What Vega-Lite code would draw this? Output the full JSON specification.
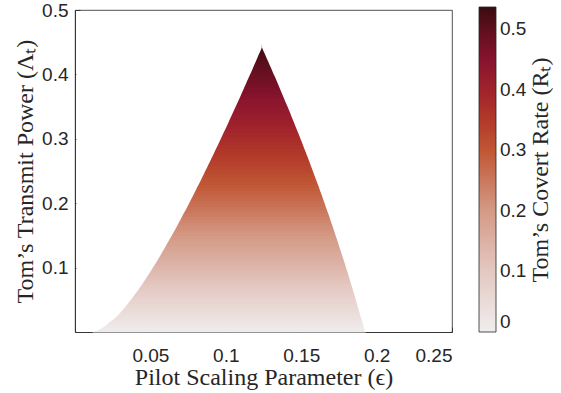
{
  "$schema": "https://vega.github.io/schema/vega-lite/v6.json",
  "width": 377,
  "height": 322,
  "autosize": {"type": "none"},
  "padding": {"left": 75, "top": 10, "right": 109, "bottom": 61},
  "background": "white",
  "config": {
    "view": {"stroke": "#262626", "strokeWidth": 0.8},
    "axis": {
      "grid": false,
      "zindex": 1,
      "domainColor": "#262626",
      "tickColor": "#262626",
      "labelColor": "#262626",
      "titleColor": "#262626",
      "labelFont": "Liberation Sans",
      "labelFontSize": 19,
      "titleFont": "Liberation Serif",
      "titleFontSize": 24,
      "titleFontWeight": "normal",
      "tickSize": -5,
      "domainWidth": 0.8,
      "tickWidth": 0.8
    }
  },
  "data": {
    "values": [
      {"lo": 0, "hi": 0.0025, "eL": 0.0121, "eR": 0.1924, "r": 0.0018},
      {"lo": 0.0025, "hi": 0.005, "eL": 0.0149, "eR": 0.1921, "r": 0.0054},
      {"lo": 0.005, "hi": 0.0075, "eL": 0.0170, "eR": 0.1918, "r": 0.0090},
      {"lo": 0.0075, "hi": 0.01, "eL": 0.0187, "eR": 0.1915, "r": 0.0126},
      {"lo": 0.01, "hi": 0.0125, "eL": 0.0203, "eR": 0.1912, "r": 0.0161},
      {"lo": 0.0125, "hi": 0.015, "eL": 0.0216, "eR": 0.1909, "r": 0.0197},
      {"lo": 0.015, "hi": 0.0175, "eL": 0.0229, "eR": 0.1906, "r": 0.0233},
      {"lo": 0.0175, "hi": 0.02, "eL": 0.0242, "eR": 0.1903, "r": 0.0268},
      {"lo": 0.02, "hi": 0.025, "eL": 0.0259, "eR": 0.1899, "r": 0.0321},
      {"lo": 0.025, "hi": 0.03, "eL": 0.0280, "eR": 0.1893, "r": 0.0391},
      {"lo": 0.03, "hi": 0.035, "eL": 0.0300, "eR": 0.1886, "r": 0.0461},
      {"lo": 0.035, "hi": 0.04, "eL": 0.0319, "eR": 0.1880, "r": 0.0531},
      {"lo": 0.04, "hi": 0.045, "eL": 0.0337, "eR": 0.1874, "r": 0.0601},
      {"lo": 0.045, "hi": 0.05, "eL": 0.0354, "eR": 0.1868, "r": 0.0670},
      {"lo": 0.05, "hi": 0.055, "eL": 0.0371, "eR": 0.1862, "r": 0.0738},
      {"lo": 0.055, "hi": 0.06, "eL": 0.0387, "eR": 0.1856, "r": 0.0807},
      {"lo": 0.06, "hi": 0.065, "eL": 0.0403, "eR": 0.1849, "r": 0.0875},
      {"lo": 0.065, "hi": 0.07, "eL": 0.0418, "eR": 0.1843, "r": 0.0942},
      {"lo": 0.07, "hi": 0.075, "eL": 0.0433, "eR": 0.1837, "r": 0.1010},
      {"lo": 0.075, "hi": 0.08, "eL": 0.0448, "eR": 0.1830, "r": 0.1077},
      {"lo": 0.08, "hi": 0.085, "eL": 0.0462, "eR": 0.1824, "r": 0.1144},
      {"lo": 0.085, "hi": 0.09, "eL": 0.0476, "eR": 0.1817, "r": 0.1210},
      {"lo": 0.09, "hi": 0.095, "eL": 0.0490, "eR": 0.1811, "r": 0.1276},
      {"lo": 0.095, "hi": 0.1, "eL": 0.0504, "eR": 0.1804, "r": 0.1342},
      {"lo": 0.1, "hi": 0.105, "eL": 0.0517, "eR": 0.1797, "r": 0.1408},
      {"lo": 0.105, "hi": 0.11, "eL": 0.0530, "eR": 0.1791, "r": 0.1473},
      {"lo": 0.11, "hi": 0.115, "eL": 0.0543, "eR": 0.1784, "r": 0.1538},
      {"lo": 0.115, "hi": 0.12, "eL": 0.0556, "eR": 0.1777, "r": 0.1603},
      {"lo": 0.12, "hi": 0.125, "eL": 0.0569, "eR": 0.1770, "r": 0.1667},
      {"lo": 0.125, "hi": 0.13, "eL": 0.0581, "eR": 0.1763, "r": 0.1731},
      {"lo": 0.13, "hi": 0.135, "eL": 0.0594, "eR": 0.1756, "r": 0.1795},
      {"lo": 0.135, "hi": 0.14, "eL": 0.0606, "eR": 0.1749, "r": 0.1859},
      {"lo": 0.14, "hi": 0.145, "eL": 0.0618, "eR": 0.1742, "r": 0.1922},
      {"lo": 0.145, "hi": 0.15, "eL": 0.0630, "eR": 0.1735, "r": 0.1985},
      {"lo": 0.15, "hi": 0.155, "eL": 0.0642, "eR": 0.1728, "r": 0.2048},
      {"lo": 0.155, "hi": 0.16, "eL": 0.0654, "eR": 0.1721, "r": 0.2110},
      {"lo": 0.16, "hi": 0.165, "eL": 0.0666, "eR": 0.1714, "r": 0.2172},
      {"lo": 0.165, "hi": 0.17, "eL": 0.0678, "eR": 0.1707, "r": 0.2234},
      {"lo": 0.17, "hi": 0.175, "eL": 0.0689, "eR": 0.1699, "r": 0.2296},
      {"lo": 0.175, "hi": 0.18, "eL": 0.0701, "eR": 0.1692, "r": 0.2357},
      {"lo": 0.18, "hi": 0.185, "eL": 0.0712, "eR": 0.1685, "r": 0.2418},
      {"lo": 0.185, "hi": 0.19, "eL": 0.0723, "eR": 0.1677, "r": 0.2479},
      {"lo": 0.19, "hi": 0.195, "eL": 0.0735, "eR": 0.1670, "r": 0.2540},
      {"lo": 0.195, "hi": 0.2, "eL": 0.0746, "eR": 0.1662, "r": 0.2600},
      {"lo": 0.2, "hi": 0.205, "eL": 0.0757, "eR": 0.1655, "r": 0.2660},
      {"lo": 0.205, "hi": 0.21, "eL": 0.0768, "eR": 0.1647, "r": 0.2720},
      {"lo": 0.21, "hi": 0.215, "eL": 0.0779, "eR": 0.1640, "r": 0.2780},
      {"lo": 0.215, "hi": 0.22, "eL": 0.0790, "eR": 0.1632, "r": 0.2839},
      {"lo": 0.22, "hi": 0.225, "eL": 0.0801, "eR": 0.1624, "r": 0.2898},
      {"lo": 0.225, "hi": 0.23, "eL": 0.0811, "eR": 0.1617, "r": 0.2957},
      {"lo": 0.23, "hi": 0.235, "eL": 0.0822, "eR": 0.1609, "r": 0.3016},
      {"lo": 0.235, "hi": 0.24, "eL": 0.0833, "eR": 0.1601, "r": 0.3074},
      {"lo": 0.24, "hi": 0.245, "eL": 0.0843, "eR": 0.1593, "r": 0.3133},
      {"lo": 0.245, "hi": 0.25, "eL": 0.0854, "eR": 0.1585, "r": 0.3190},
      {"lo": 0.25, "hi": 0.255, "eL": 0.0864, "eR": 0.1577, "r": 0.3248},
      {"lo": 0.255, "hi": 0.26, "eL": 0.0875, "eR": 0.1569, "r": 0.3306},
      {"lo": 0.26, "hi": 0.265, "eL": 0.0885, "eR": 0.1561, "r": 0.3363},
      {"lo": 0.265, "hi": 0.27, "eL": 0.0896, "eR": 0.1553, "r": 0.3420},
      {"lo": 0.27, "hi": 0.275, "eL": 0.0906, "eR": 0.1545, "r": 0.3477},
      {"lo": 0.275, "hi": 0.28, "eL": 0.0916, "eR": 0.1537, "r": 0.3533},
      {"lo": 0.28, "hi": 0.285, "eL": 0.0926, "eR": 0.1529, "r": 0.3590},
      {"lo": 0.285, "hi": 0.29, "eL": 0.0936, "eR": 0.1520, "r": 0.3646},
      {"lo": 0.29, "hi": 0.295, "eL": 0.0947, "eR": 0.1512, "r": 0.3702},
      {"lo": 0.295, "hi": 0.3, "eL": 0.0957, "eR": 0.1504, "r": 0.3757},
      {"lo": 0.3, "hi": 0.305, "eL": 0.0967, "eR": 0.1495, "r": 0.3813},
      {"lo": 0.305, "hi": 0.31, "eL": 0.0977, "eR": 0.1487, "r": 0.3868},
      {"lo": 0.31, "hi": 0.315, "eL": 0.0987, "eR": 0.1478, "r": 0.3923},
      {"lo": 0.315, "hi": 0.32, "eL": 0.0997, "eR": 0.1470, "r": 0.3978},
      {"lo": 0.32, "hi": 0.325, "eL": 0.1007, "eR": 0.1461, "r": 0.4033},
      {"lo": 0.325, "hi": 0.33, "eL": 0.1017, "eR": 0.1453, "r": 0.4087},
      {"lo": 0.33, "hi": 0.335, "eL": 0.1026, "eR": 0.1444, "r": 0.4141},
      {"lo": 0.335, "hi": 0.34, "eL": 0.1036, "eR": 0.1435, "r": 0.4195},
      {"lo": 0.34, "hi": 0.345, "eL": 0.1046, "eR": 0.1427, "r": 0.4249},
      {"lo": 0.345, "hi": 0.35, "eL": 0.1056, "eR": 0.1418, "r": 0.4303},
      {"lo": 0.35, "hi": 0.355, "eL": 0.1066, "eR": 0.1409, "r": 0.4356},
      {"lo": 0.355, "hi": 0.36, "eL": 0.1075, "eR": 0.1400, "r": 0.4410},
      {"lo": 0.36, "hi": 0.365, "eL": 0.1085, "eR": 0.1391, "r": 0.4463},
      {"lo": 0.365, "hi": 0.37, "eL": 0.1095, "eR": 0.1382, "r": 0.4515},
      {"lo": 0.37, "hi": 0.375, "eL": 0.1104, "eR": 0.1373, "r": 0.4568},
      {"lo": 0.375, "hi": 0.38, "eL": 0.1114, "eR": 0.1364, "r": 0.4621},
      {"lo": 0.38, "hi": 0.385, "eL": 0.1123, "eR": 0.1355, "r": 0.4673},
      {"lo": 0.385, "hi": 0.39, "eL": 0.1133, "eR": 0.1346, "r": 0.4725},
      {"lo": 0.39, "hi": 0.395, "eL": 0.1142, "eR": 0.1337, "r": 0.4777},
      {"lo": 0.395, "hi": 0.4, "eL": 0.1152, "eR": 0.1328, "r": 0.4829},
      {"lo": 0.4, "hi": 0.405, "eL": 0.1161, "eR": 0.1318, "r": 0.4880},
      {"lo": 0.405, "hi": 0.41, "eL": 0.1171, "eR": 0.1309, "r": 0.4931},
      {"lo": 0.41, "hi": 0.415, "eL": 0.1180, "eR": 0.1300, "r": 0.4983},
      {"lo": 0.415, "hi": 0.42, "eL": 0.1189, "eR": 0.1290, "r": 0.5034},
      {"lo": 0.42, "hi": 0.425, "eL": 0.1199, "eR": 0.1281, "r": 0.5084},
      {"lo": 0.425, "hi": 0.43, "eL": 0.1208, "eR": 0.1271, "r": 0.5135},
      {"lo": 0.43, "hi": 0.435, "eL": 0.1217, "eR": 0.1262, "r": 0.5185},
      {"lo": 0.435, "hi": 0.44, "eL": 0.1227, "eR": 0.1252, "r": 0.5236},
      {"lo": 0.44, "hi": 0.445, "eL": 0.1236, "eR": 0.1243, "r": 0.5286},
      {"lo": 0.445, "hi": 0.445, "eL": 0.1239, "eR": 0.1239, "r": 0.5310}
    ]
  },
  "layer": [
    {
      "mark": {
        "type": "rect",
        "strokeWidth": {"expr": "datum.lo >= 0.44 ? 0 : 1.2"},
        "stroke": {"expr": "scale('color', datum.r)"}
      },
      "encoding": {
        "x": {
          "field": "eL",
          "type": "quantitative",
          "scale": {"domain": [0, 0.25], "nice": false, "zero": false},
          "axis": {
            "values": [0.05, 0.1, 0.15, 0.2, 0.25],
            "format": "~g",
            "labelPadding": 19,
            "titlePadding": 0,
            "title": "Pilot Scaling Parameter (ϵ)"
          }
        },
        "x2": {"field": "eR"},
        "y": {
          "field": "lo",
          "type": "quantitative",
          "scale": {"domain": [0, 0.5], "nice": false, "zero": false},
          "axis": {
            "values": [0.1, 0.2, 0.3, 0.4, 0.5],
            "format": "~g",
            "labelPadding": 12,
            "titlePadding": 4,
            "title": "Tom’s Transmit Power (Λₜ)"
          }
        },
        "y2": {"field": "hi"},
        "color": {
          "field": "r",
          "type": "quantitative",
          "scale": {
            "domain": [0, 0.1, 0.2, 0.3, 0.35, 0.4, 0.45, 0.5, 0.537],
            "range": ["#f0eded", "#e4c8c2", "#d49a86", "#c05634", "#b23a2a", "#a0222c", "#88132e", "#5e0f1e", "#3a0b10"],
            "interpolate": "rgb"
          },
          "legend": {
            "type": "gradient",
            "orient": "none",
            "legendX": 404,
            "legendY": -3,
            "direction": "vertical",
            "gradientLength": 325,
            "gradientThickness": 17,
            "gradientStrokeColor": "#262626",
            "gradientStrokeWidth": 0.8,
            "values": [0, 0.1, 0.2, 0.3, 0.4, 0.5],
            "format": "~g",
            "labelOverlap": false,
            "labelFont": "Liberation Sans",
            "labelFontSize": 19,
            "labelColor": "#262626",
            "labelOffset": 4,
            "title": "Tom’s Covert Rate (Rₜ)",
            "titleOrient": "right",
            "titleAnchor": "middle",
            "titleFont": "Liberation Serif",
            "titleFontSize": 24,
            "titleFontWeight": "normal",
            "titleColor": "#262626",
            "titleLimit": 500,
            "titlePadding": 3,
            "encode": {
              "title": {
                "update": {
                  "angle": {"value": -90},
                  "baseline": {"value": "top"}
                }
              }
            }
          }
        }
      }
    },
    {
      "mark": {"type": "area", "orient": "horizontal", "fill": "white", "stroke": null},
      "encoding": {
        "y": {"field": "lo", "type": "quantitative"},
        "x": {"field": "eL", "type": "quantitative"},
        "x2": {"datum": 0.001}
      }
    },
    {
      "mark": {"type": "area", "orient": "horizontal", "fill": "white", "stroke": null},
      "encoding": {
        "y": {"field": "lo", "type": "quantitative"},
        "x": {"field": "eR", "type": "quantitative"},
        "x2": {"datum": 0.249}
      }
    }
  ]
}
